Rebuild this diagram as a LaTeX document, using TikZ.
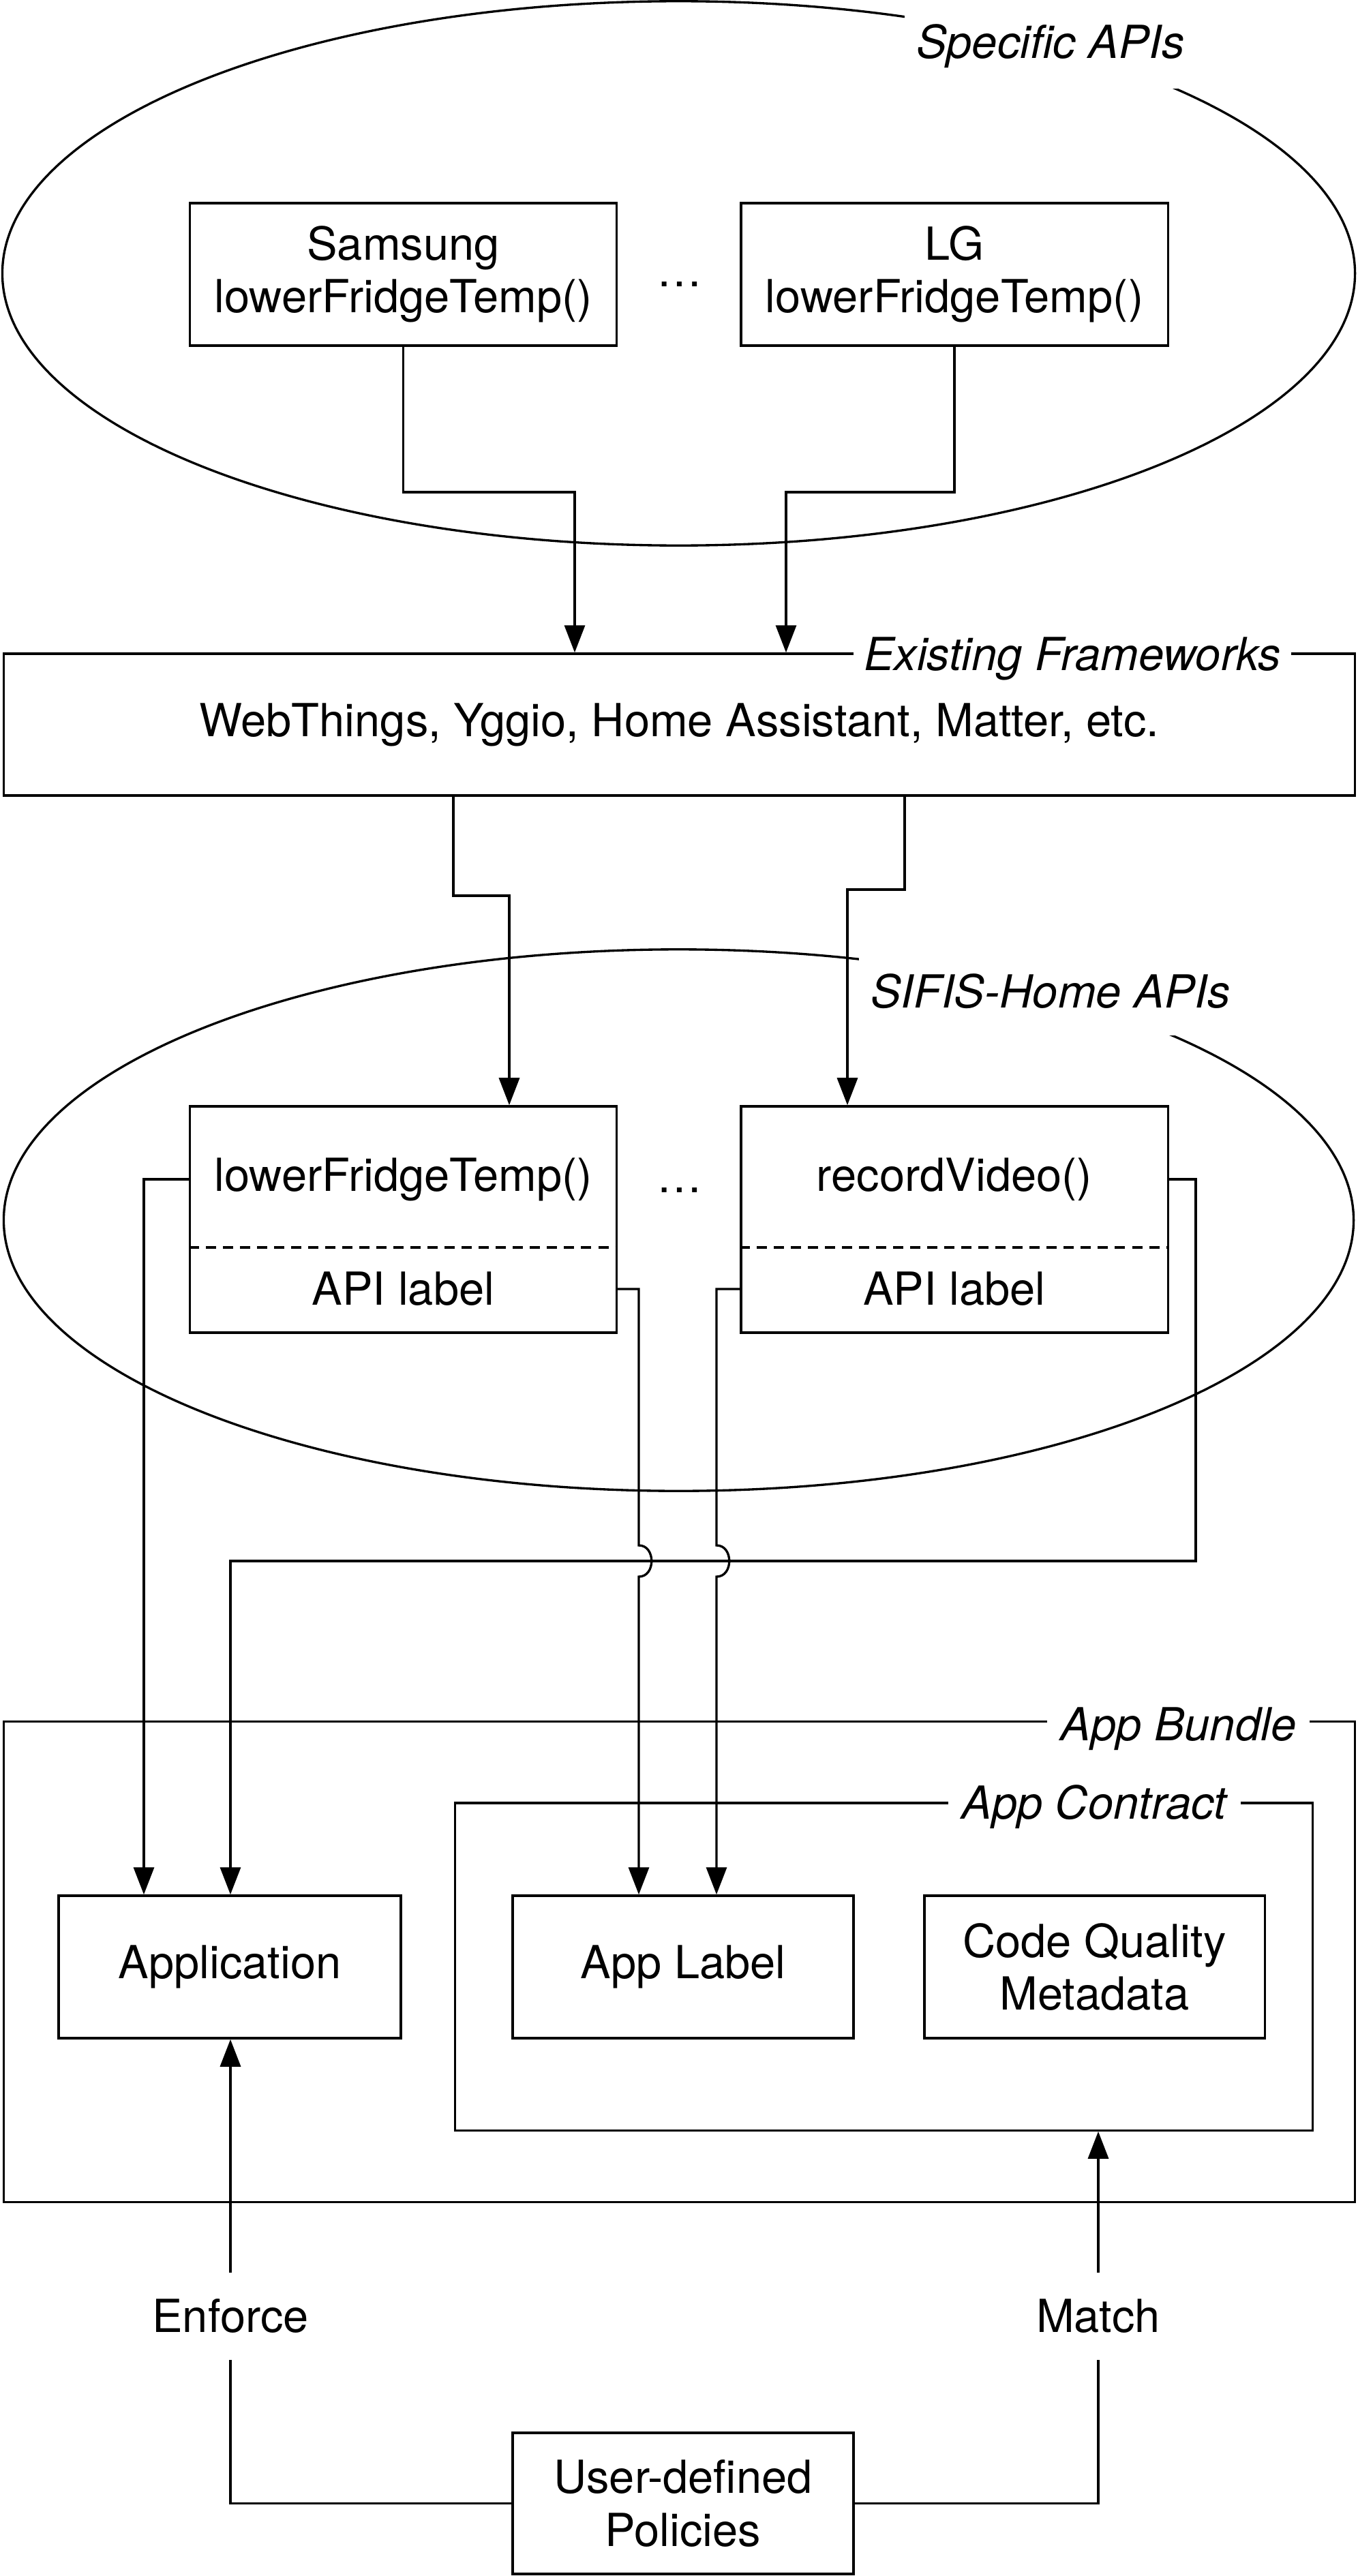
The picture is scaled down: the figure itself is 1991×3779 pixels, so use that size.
\documentclass[tikz,border=0pt]{standalone}
\usepackage{fontspec}
\setmainfont{TeX Gyre Heros}
\usetikzlibrary{arrows.meta,shapes.geometric}

\newcommand\diagfont{\fontsize{19}{22}\selectfont}

\tikzset{
  box/.style={draw, line width=0.95pt, minimum height=2.09cm, align=center, inner sep=0pt},
  frame/.style={draw, line width=0.95pt, inner sep=0pt},
  tag/.style={fill=white, font=\diagfont\itshape, inner xsep=0.2cm, inner ysep=0.05cm},
  wire/.style={line width=0.95pt},
  arr/.style={line width=0.95pt, -{Triangle[length=0.4cm,width=0.3cm]}},
}

\begin{document}
\begin{tikzpicture}[x=0.01cm, y=-0.01cm, font=\diagfont]
%\draw [lightgray](0,0) grid (1991,3779);
\useasboundingbox (0,0) rectangle (1991,3779);

\node [frame, ellipse, minimum width=19.83cm, minimum height=7.98cm] (specific) at (995.5,401) {};
\node [tag, inner sep=0pt, minimum width=4.28cm, minimum height=1.24cm] (specifictag) at (1541,68) {Specific APIs};
\node [box, minimum width=6.25cm] (samsung) at (591.5,402.5) {Samsung\\lowerFridgeTemp()};
\node [box, minimum width=6.26cm] (lg) at (1400,402.5) {LG\\lowerFridgeTemp()};
\node [anchor=base] (dots1) at (997,421) {\ldots};

\node [frame, minimum width=19.81cm, minimum height=2.08cm] (existing) at (996.5,1063) {WebThings, Yggio, Home Assistant, Matter, etc.};
\node [tag, anchor=base, inner xsep=0.15cm] (existingtag) at (1573,983) {Existing Frameworks};

\coordinate (s1) at (843,722);
\coordinate (l1) at (1153,722);
\draw [arr] (samsung.south) |- (s1) -- (s1 |- existing.north);
\draw [arr] (lg.south) |- (l1) -- (l1 |- existing.north);

\node [frame, ellipse, minimum width=19.79cm, minimum height=7.94cm] (sifis) at (995.5,1790) {};
\node [tag, inner sep=0pt, minimum width=5.62cm, minimum height=1.3cm] (sifistag) at (1541,1454) {SIFIS-Home APIs};

\node [box, minimum width=6.25cm, minimum height=3.32cm] (fridge) at (591.5,1789) {};
\node (fridgename) at (591.5,1730) {lowerFridgeTemp()};
\node (fridgelabel) at (591.5,1891) {API label};
\node [box, minimum width=6.26cm, minimum height=3.32cm] (video) at (1400,1789) {};
\node (videoname) at (1400,1730) {recordVideo()};
\node (videolabel) at (1400,1891) {API label};
\node [anchor=base] (dots2) at (997,1749) {\ldots};
\coordinate (fridgecut) at (591.5,1830);
\coordinate (videocut) at (1400,1830);
\draw [wire, dash pattern=on 0.15cm off 0.1cm] (fridgecut -| fridge.west) -- (fridgecut -| fridge.east);
\draw [wire, dash pattern=on 0.15cm off 0.1cm] (videocut -| video.west) -- (videocut -| video.east);

\coordinate (e1) at (665,1314);
\coordinate (e1b) at (747,1314);
\coordinate (e2) at (1327,1305);
\coordinate (e2b) at (1243,1305);
\draw [arr] (e1 |- existing.south) -- (e1) -- (e1b) -- (e1b |- fridge.north);
\draw [arr] (e2 |- existing.south) -- (e2) -- (e2b) -- (e2b |- video.north);

\node [frame, minimum width=19.81cm, minimum height=7.04cm] (bundle) at (996.5,2878) {};
\node [tag, anchor=base] (bundletag) at (1728.5,2553) {App Bundle};
\node [frame, minimum width=12.57cm, minimum height=4.80cm] (contract) at (1296.5,2885) {};
\node [tag, anchor=base] (contracttag) at (1605,2668) {App Contract};

\node [box, minimum width=5.02cm] (app) at (337,2885.5) {Application};
\node [box, minimum width=5.00cm] (applabel) at (1002,2885.5) {App Label};
\node [box, minimum width=4.99cm] (quality) at (1605.5,2885.5) {Code Quality\\Metadata};

\coordinate (lane1) at (211,1730);
\coordinate (lane2) at (1754,2290);
\coordinate (lane2b) at (338,2290);
\coordinate (lane3) at (937,2267);
\coordinate (lane3b) at (937,2313);
\coordinate (lane4) at (1051,2267);
\coordinate (lane4b) at (1051,2313);
\draw [arr] (fridge.west |- fridgename) -- (lane1) -- (lane1 |- app.north);
\draw [arr] (video.east |- videoname) -| (lane2) -- (lane2b) -- (lane2b |- app.north);
\draw [arr] (fridge.east |- fridgelabel) -| (lane3) .. controls +(25,0) and +(25,0) .. (lane3b) -- (lane3b |- applabel.north);
\draw [arr] (video.west |- videolabel) -| (lane4) .. controls +(25,0) and +(25,0) .. (lane4b) -- (lane4b |- applabel.north);

\node [box, minimum width=5.00cm, minimum height=2.07cm] (policies) at (1002,3672.5) {User-defined\\Policies};
\node [minimum height=1.26cm, inner sep=0pt] (enforce) at (338,3398) {Enforce};
\node [minimum height=1.26cm, inner sep=0pt] (match) at (1611,3398) {Match};
\draw [wire] (policies.west) -| (enforce.south);
\draw [arr] (enforce.north) -- (enforce.north |- app.south);
\draw [wire] (policies.east) -| (match.south);
\draw [arr] (match.north) -- (match.north |- contract.south);
\end{tikzpicture}
\end{document}
